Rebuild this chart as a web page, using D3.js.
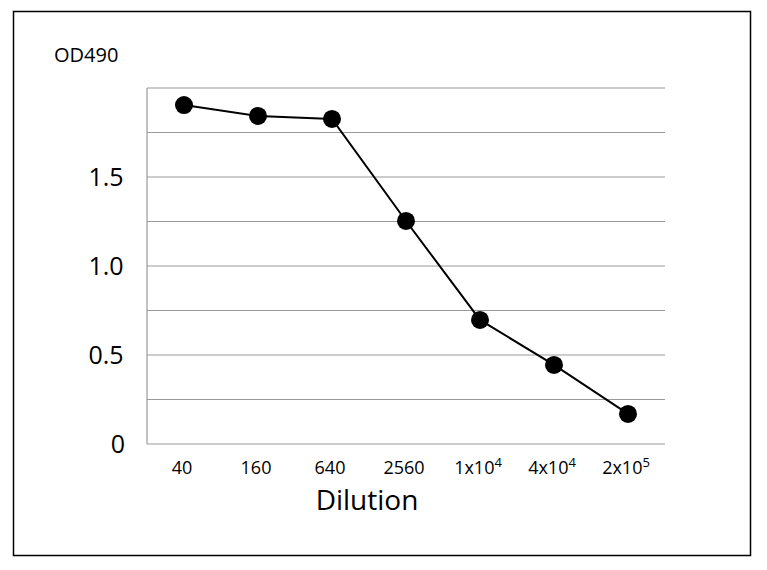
<!DOCTYPE html>
<html><head><meta charset="utf-8">
<script src="https://cdn.jsdelivr.net/npm/d3@7"></script>
<style>body{margin:0;background:#fff}</style>
</head><body><div id="chart"></div>
<script>
var dilutions = ["40", "160", "640", "2560", "1x10^4", "4x10^4", "2x10^5"];
var od490 = [1.904, 1.843, 1.826, 1.253, 0.697, 0.444, 0.169];
var yTicks = [0, 0.5, 1.0, 1.5];
var gridTicks = [0, 0.25, 0.5, 0.75, 1.0, 1.25, 1.5, 1.75, 2.0];

var svg = d3.select("#chart").append("svg").attr("width", 767).attr("height", 570);
svg.append("rect").attr("x", 13.5).attr("y", 11.5).attr("width", 737).attr("height", 544)
    .attr("fill", "none").attr("stroke", "#000").attr("stroke-width", 1.5);

var x = d3.scalePoint().domain(dilutions).range([184, 628]);
var y = d3.scaleLinear().domain([0, 2]).range([444, 88]);

svg.selectAll(".grid").data(gridTicks).enter().append("line")
    .attr("x1", 147).attr("x2", 665)
    .attr("y1", function(d){ return y(d); }).attr("y2", function(d){ return y(d); })
    .attr("stroke", "#999").attr("stroke-width", 1.2);
svg.append("line").attr("x1", 147).attr("x2", 147).attr("y1", 88).attr("y2", 444)
    .attr("stroke", "#999").attr("stroke-width", 1.2);

svg.selectAll(".yt").data(yTicks).enter().append("text")
    .attr("x", function(d){ return d === 0 ? 118 : 106; }).attr("y", function(d){ return y(d) + 9; })
    .attr("text-anchor", "middle").attr("font-family", "Open Sans").attr("font-size", 25)
    .text(function(d){ return d === 0 ? "0" : d.toFixed(1); });

var xt = svg.selectAll(".xt").data(dilutions).enter().append("text")
    .attr("x", function(d){ return x(d) - 2; }).attr("y", 474)
    .attr("text-anchor", "middle").attr("font-family", "Open Sans").attr("font-size", 18);
xt.each(function(d){
    var t = d3.select(this), p = d.split("^");
    t.append("tspan").text(p[0]);
    if (p[1]) t.append("tspan").attr("dy", -7).attr("font-size", 13).text(p[1]);
});

svg.append("text").attr("x", 367).attr("y", 510).attr("text-anchor", "middle")
    .attr("font-family", "Open Sans").attr("font-size", 28).text("Dilution");
svg.append("text").attr("x", 54).attr("y", 62).attr("font-family", "Open Sans")
    .attr("font-size", 20).text("OD490");

var line = d3.line().x(function(d, i){ return x(dilutions[i]); }).y(function(d){ return y(d); });
svg.append("path").datum(od490).attr("d", line).attr("fill", "none")
    .attr("stroke", "#000").attr("stroke-width", 2);
svg.selectAll(".pt").data(od490).enter().append("circle")
    .attr("cx", function(d, i){ return x(dilutions[i]); }).attr("cy", function(d){ return y(d); })
    .attr("r", 9).attr("fill", "#000");
</script></body></html>
